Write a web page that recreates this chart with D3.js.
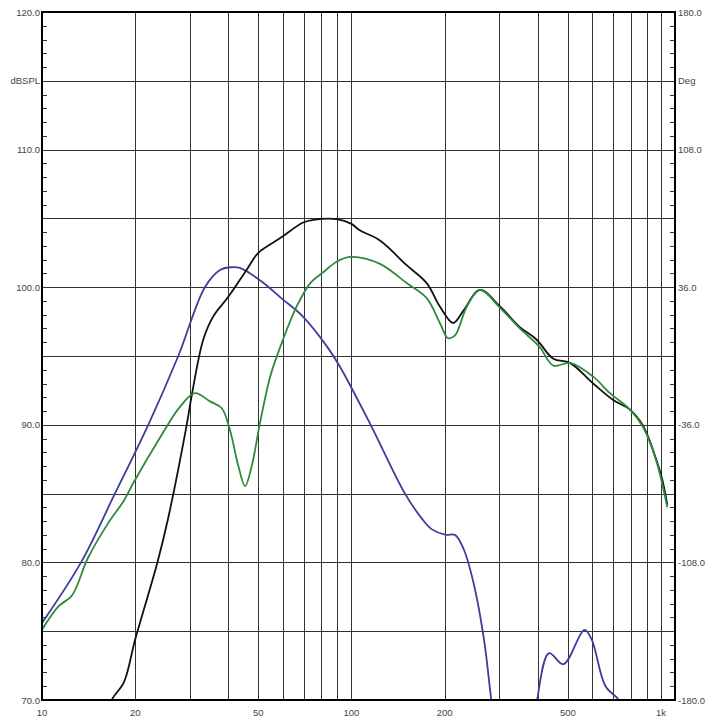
<!DOCTYPE html>
<html><head><meta charset="utf-8">
<script src="https://cdn.jsdelivr.net/npm/d3@7"></script>
<style>body{margin:0;background:#fff;}svg{display:block;font-family:Arial,"Liberation Sans",sans-serif;}</style>
</head><body>
<svg id="c" width="705" height="718"></svg>
<script>
// ---- data ----
const xTickValues = [10, 20, 50, 100, 200, 500, 1000];
const xTickLabels = ["10", "20", "50", "100", "200", "500", "1k"];
const xGridValues = [20,30,40,50,60,70,80,90,100,200,300,400,500,600,700,800,900,1000];
const yLeftTicks = [70, 80, 90, 100, 110, 120];
const yLeftLabels = ["70.0", "80.0", "90.0", "100.0", "110.0", "120.0"];
const yRightLabels = ["-180.0", "-108.0", "-36.0", "36.0", "108.0", "180.0"];
const yGridValues = [75, 80, 85, 90, 95, 100, 105, 110, 115];

const blackFreq = [16.3, 16.8, 18.4, 20, 23.6, 25.5, 29.3, 30.5, 33.2, 35.8, 40, 45.8, 50, 58.7, 69.8, 75.3, 89.6, 100, 106, 123.6, 150.7, 175, 193, 213, 230, 260, 302, 350, 396, 449, 508, 604, 701, 794, 877, 968, 1010, 1048];
const blackDb   = [68.8, 70, 71.3, 74.4, 80, 83.1, 89.9, 92.2, 96.2, 97.9, 99.3, 101.25, 102.5, 103.55, 104.7, 104.9, 104.95, 104.6, 104.15, 103.4, 101.6, 100.3, 98.6, 97.4, 98.3, 99.8, 98.6, 97.1, 96.2, 94.8, 94.5, 93.0, 91.8, 91.1, 89.9, 87.4, 86.0, 84.2];

const greenFreq = [10, 11.3, 12.5, 14.06, 16.3, 18.4, 19.7, 24.1, 27.9, 31.2, 34.9, 38.1, 40.5, 43.1, 45.3, 47.6, 50.6, 54.6, 60.1, 66.5, 73.6, 81.2, 89.5, 99, 123.6, 150.7, 175, 193, 205, 216, 236, 260, 302, 350, 404, 449, 508, 604, 684, 794, 877, 968, 1048];
const greenDb   = [75.1, 76.8, 77.6, 80.3, 82.8, 84.5, 85.75, 89.1, 91.3, 92.3, 91.7, 91.2, 89.6, 87.0, 85.55, 87.0, 90.1, 93.5, 96.2, 98.6, 100.3, 101.1, 101.85, 102.2, 101.7, 100.3, 99.2, 97.4, 96.3, 96.5, 98.6, 99.8, 98.5, 97.0, 95.7, 94.3, 94.5, 93.5, 92.3, 91.1, 89.8, 87.3, 84.0];

const blueFreq = [10, 13.37, 17.2, 22.05, 27.56, 33.6, 37.6, 40.5, 43.6, 50.6, 60.1, 69.8, 83.3, 91.9, 115.3, 148.9, 168.6, 182, 202, 216, 231, 248, 268, 283, 295, 385, 398, 435, 484, 566, 597, 662, 731, 760];
const blueDb   = [75.6, 80.0, 85.0, 90.0, 95.0, 100.0, 101.25, 101.45, 101.4, 100.5, 99.1, 97.85, 95.7, 94.2, 90.0, 85.0, 83.2, 82.4, 82.0, 82.0, 80.9, 78.5, 74.4, 70.0, 67, 67, 70.0, 73.4, 72.6, 75.1, 74.4, 71.0, 70.0, 69.0];

// ---- layout ----
const L = 42, R = 675, T = 12, B = 700;
const svg = d3.select("#c");
const x = d3.scaleLog().domain([10, 1110]).range([L, R]);
const y = d3.scaleLinear().domain([70, 120]).range([B, T]);

// grid
const g = svg.append("g");
g.selectAll("line.vg").data(xGridValues).join("line")
  .attr("x1", d => Math.round(x(d)) + 0.5).attr("x2", d => Math.round(x(d)) + 0.5)
  .attr("y1", T).attr("y2", B).attr("stroke", "#333").attr("stroke-width", 1);
g.selectAll("line.hg").data(yGridValues).join("line")
  .attr("y1", d => Math.round(y(d)) + 0.5).attr("y2", d => Math.round(y(d)) + 0.5)
  .attr("x1", L).attr("x2", R).attr("stroke", "#333").attr("stroke-width", 1);

// minor ticks (inside) every 1 dB
const minor = d3.range(71, 120);
g.selectAll("line.lt").data(minor).join("line")
  .attr("x1", L).attr("x2", L + 5)
  .attr("y1", d => Math.round(y(d)) + 0.5).attr("y2", d => Math.round(y(d)) + 0.5)
  .attr("stroke", "#333").attr("stroke-width", 1);
g.selectAll("line.rt").data(minor).join("line")
  .attr("x1", R - 5).attr("x2", R)
  .attr("y1", d => Math.round(y(d)) + 0.5).attr("y2", d => Math.round(y(d)) + 0.5)
  .attr("stroke", "#333").attr("stroke-width", 1);

// curves
svg.append("clipPath").attr("id", "clip").append("rect")
  .attr("x", L).attr("y", T).attr("width", R - L).attr("height", B - T);
const line = d3.line().x(d => x(d[0])).y(d => y(d[1])).curve(d3.curveCatmullRom.alpha(0.5));
const curves = svg.append("g").attr("clip-path", "url(#clip)");
const series = [
  {f: blueFreq, v: blueDb, c: "#3d3d9c"},
  {f: blackFreq, v: blackDb, c: "#111111"},
  {f: greenFreq, v: greenDb, c: "#2f8a3c"}
];
series.forEach(s => {
  curves.append("path").datum(s.f.map((f, i) => [f, s.v[i]]))
    .attr("d", line).attr("fill", "none").attr("stroke", s.c)
    .attr("stroke-width", 1.8).attr("stroke-linejoin", "round");
});

// frame
svg.append("rect").attr("x", L).attr("y", T).attr("width", R - L).attr("height", B - T)
  .attr("fill", "none").attr("stroke", "#000").attr("stroke-width", 2);

// labels
const txt = svg.append("g").attr("font-size", 9.5).attr("fill", "#444");
txt.selectAll("text.yl").data(yLeftTicks).join("text")
  .attr("x", L - 2).attr("y", d => y(d) + 3.5).attr("text-anchor", "end")
  .text((d, i) => yLeftLabels[i]);
txt.selectAll("text.yr").data(yLeftTicks).join("text")
  .attr("x", R + 3).attr("y", d => y(d) + 3.5).attr("text-anchor", "start")
  .text((d, i) => yRightLabels[i]);
txt.append("text").attr("x", L - 2).attr("y", y(115) + 3.5).attr("text-anchor", "end").text("dBSPL");
txt.append("text").attr("x", R + 3).attr("y", y(115) + 3.5).attr("text-anchor", "start").text("Deg");
txt.selectAll("text.xl").data(xTickValues).join("text")
  .attr("x", d => x(d)).attr("y", B + 16).attr("text-anchor", "middle")
  .text((d, i) => xTickLabels[i]);
</script>
</body></html>
